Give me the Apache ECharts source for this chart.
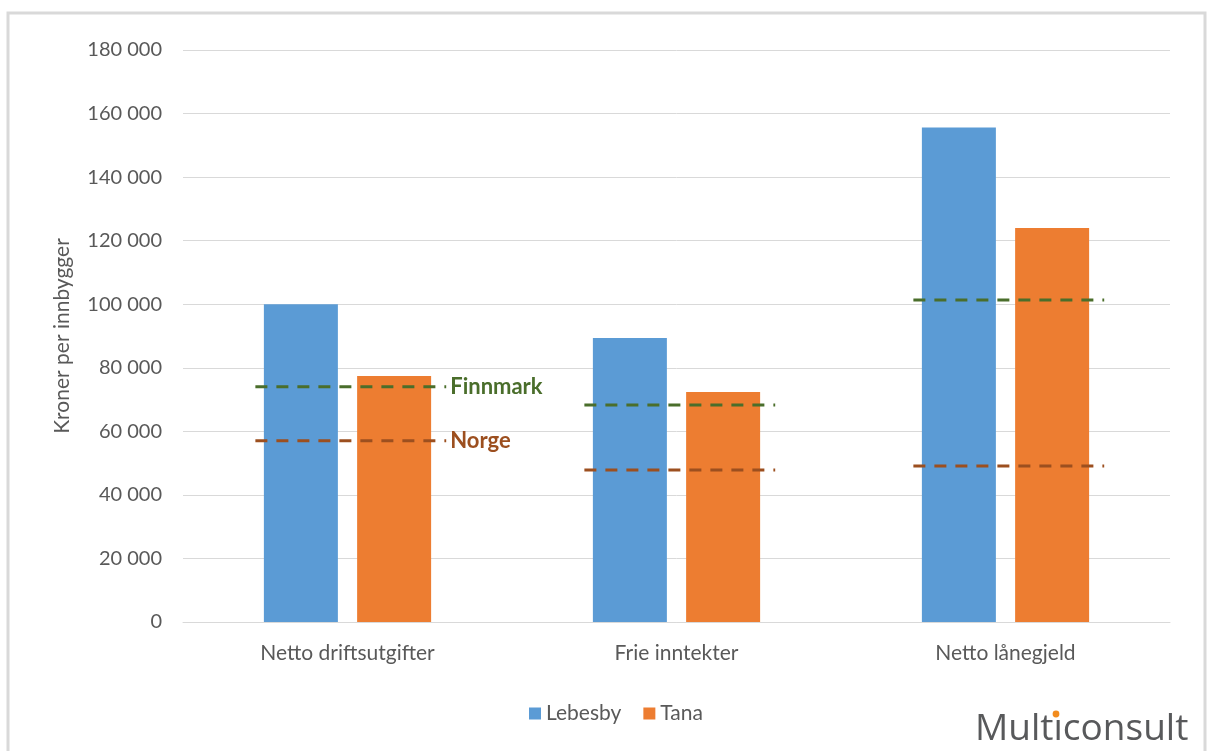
<!DOCTYPE html>
<html>
<head>
<meta charset="utf-8">
<script src="https://cdn.jsdelivr.net/npm/echarts@6/dist/echarts.min.js"></script>
<style>
  html, body { margin: 0; padding: 0; background: #ffffff; }
  #chart { width: 1208px; height: 751px; }
</style>
</head>
<body>
<div id="chart"></div>
<script>
// Categories and values (kroner per innbygger)
const categories = ['Netto driftsutgifter', 'Frie inntekter', 'Netto lånegjeld'];
const lebesby = [100000, 89400, 155600];
const tana = [77400, 72400, 124000];
// Reference levels for the county and the country
const finnmark = [74000, 68300, 101300];
const norge = [57000, 47800, 49100];
const refLabels = { finnmark: 'Finnmark', norge: 'Norge' };
const yTicks = { min: 0, max: 180000, interval: 20000 };

const FONT = 'Lato, "Open Sans", sans-serif';
const TEXT = '#595959';

// Dashed reference line spanning each category band, optional label on the first one
function refSeries(name, values, color, label) {
  return {
    name: name,
    type: 'custom',
    coordinateSystem: 'cartesian2d',
    z: 5,
    silent: true,
    data: values.map((v, i) => [i, v]),
    renderItem: function (params, api) {
      const idx = api.value(0);
      const val = api.value(1);
      const p = api.coord([idx, val]);
      const band = api.size([1, 0])[0];
      const x1 = p[0] - band * 0.28;
      const x2 = p[0] + band * 0.30;
      const children = [{
        type: 'line',
        shape: { x1: x1, y1: p[1], x2: x2, y2: p[1] },
        style: { stroke: color, lineWidth: 3, lineDash: [12, 9] }
      }];
      if (idx === 0 && label) {
        children.push({
          type: 'text',
          x: x2 + 4,
          y: p[1],
          style: {
            text: label,
            fill: color,
            font: 'bold 22px ' + FONT,
            verticalAlign: 'middle',
            align: 'left'
          }
        });
      }
      return { type: 'group', children: children };
    }
  };
}

const chart = echarts.init(document.getElementById('chart'), null, { renderer: 'canvas' });

chart.setOption({
  backgroundColor: '#ffffff',
  animation: false,
  textStyle: { fontFamily: FONT },
  grid: { left: 183, right: 38, top: 50, bottom: 129, containLabel: false },
  legend: {
    data: ['Lebesby', 'Tana'],
    left: 524,
    top: 698,
    itemWidth: 12,
    itemHeight: 12,
    itemGap: 22,
    icon: 'rect',
    textStyle: { color: TEXT, fontSize: 21, fontFamily: FONT }
  },
  xAxis: {
    type: 'category',
    data: categories,
    axisLine: { show: true, lineStyle: { color: '#d9d9d9', width: 1 } },
    axisTick: { show: false },
    axisLabel: { color: TEXT, fontSize: 21, margin: 21, fontFamily: FONT }
  },
  yAxis: {
    type: 'value',
    min: yTicks.min,
    max: yTicks.max,
    interval: yTicks.interval,
    name: 'Kroner per innbygger',
    nameLocation: 'middle',
    nameGap: 110,
    nameRotate: 90,
    nameTextStyle: { color: TEXT, fontSize: 21, fontFamily: FONT },
    axisLine: { show: false },
    axisTick: { show: false },
    splitLine: { lineStyle: { color: '#d9d9d9', width: 1 } },
    axisLabel: {
      color: TEXT,
      fontSize: 20,
      margin: 21,
      fontFamily: FONT,
      formatter: function (v) {
        return String(v).replace(/\B(?=(\d{3})+(?!\d))/g, ' ');
      }
    }
  },
  series: [
    {
      name: 'Lebesby',
      type: 'bar',
      data: lebesby,
      barWidth: 74,
      barGap: '26%',
      itemStyle: { color: '#5B9BD5' }
    },
    {
      name: 'Tana',
      type: 'bar',
      data: tana,
      barWidth: 74,
      itemStyle: { color: '#ED7D31' }
    },
    refSeries('Finnmark', finnmark, '#4A6E2B', refLabels.finnmark),
    refSeries('Norge', norge, '#9C4F1F', refLabels.norge)
  ],
  graphic: [
    {
      type: 'rect',
      shape: { x: 8, y: 13, width: 1197, height: 760 },
      style: { fill: 'none', stroke: '#d9d9d9', lineWidth: 3 },
      silent: true,
      z: -10
    },
    {
      type: 'text',
      x: 975,
      y: 748,
      style: {
        text: 'Mult\u0131consult',
        fill: '#58595B',
        font: '500 37px "Open Sans", sans-serif',
        verticalAlign: 'bottom'
      },
      z: 10
    },
    {
      type: 'circle',
      shape: { cx: 1056, cy: 714, r: 3.4 },
      style: { fill: '#F28C1E' },
      z: 11
    }
  ]
});
</script>
</body>
</html>
